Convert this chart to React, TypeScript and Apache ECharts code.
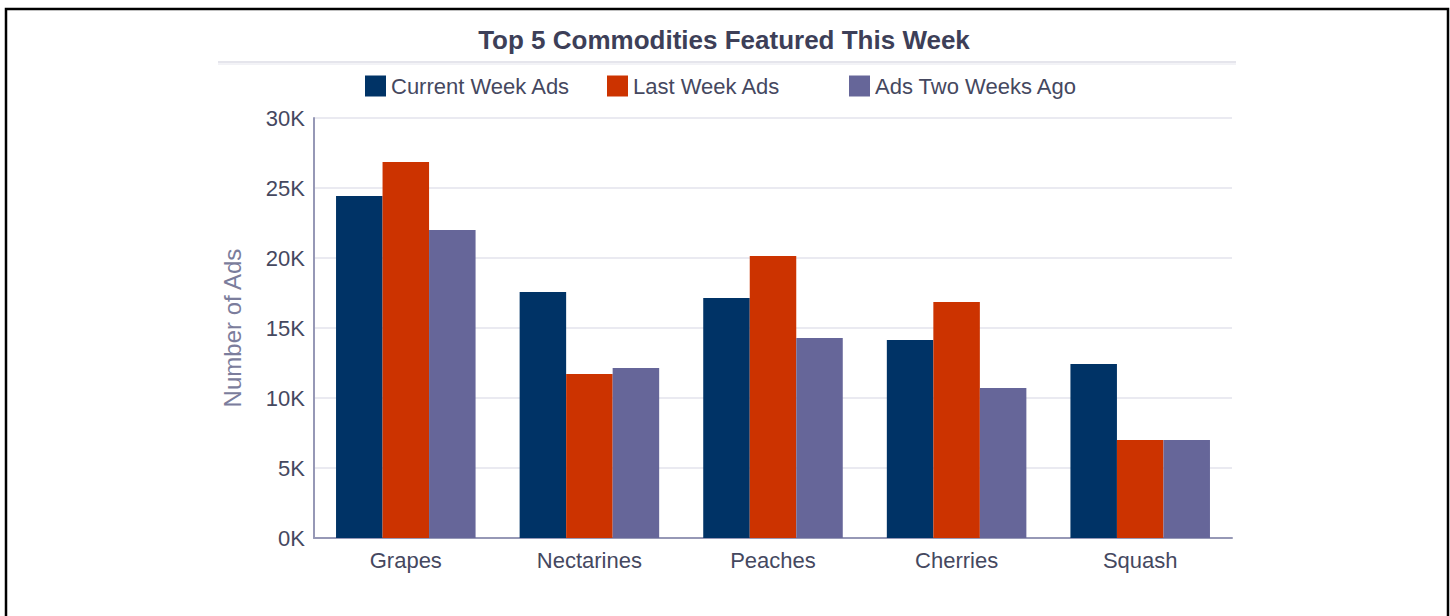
import React, { useEffect, useRef } from "react";
import * as echarts from "echarts";

const categories = ["Grapes", "Nectarines", "Peaches", "Cherries", "Squash"];
const seriesNames = ["Current Week Ads", "Last Week Ads", "Ads Two Weeks Ago"];
const currentWeek = [24430, 17570, 17140, 14140, 12430];
const lastWeek = [26860, 11710, 20140, 16860, 7000];
const twoWeeksAgo = [22000, 12140, 14290, 10710, 7000];
const colors = ["#003366", "#cc3300", "#666699"];
const legendLefts = [360, 602, 844];

const FONT = "Liberation Sans";

export default function App() {
  const ref = useRef<HTMLDivElement>(null);
  useEffect(() => {
    if (!ref.current) return;
    const chart = echarts.init(ref.current, undefined, { renderer: "svg" });
    const data = [currentWeek, lastWeek, twoWeeksAgo];
    chart.setOption({
      animation: false,
      textStyle: { fontFamily: FONT },
      title: {
        text: "Top 5 Commodities Featured This Week",
        left: 719,
        textAlign: "center",
        top: 22,
        textStyle: { fontFamily: FONT, fontSize: 26, fontWeight: "bold", color: "#3d3f58" },
      },
      legend: seriesNames.map((name, i) => ({
        left: legendLefts[i],
        top: 70,
        itemWidth: 21,
        itemHeight: 21,
        icon: "rect",
        textStyle: { fontFamily: FONT, fontSize: 22, color: "#45485f" },
        data: [name],
      })),
      grid: { left: 314, right: 218, top: 118, bottom: 78, containLabel: false },
      xAxis: {
        type: "category",
        data: categories,
        axisLine: { lineStyle: { color: "#9698b6", width: 2 } },
        axisTick: { show: false },
        axisLabel: { fontFamily: FONT, fontSize: 22, color: "#45485f", margin: 11 },
      },
      yAxis: {
        type: "value",
        min: 0,
        max: 30000,
        interval: 5000,
        name: "Number of Ads",
        nameLocation: "middle",
        nameGap: 70,
        nameTextStyle: { fontFamily: FONT, fontSize: 24, color: "#7b7d9c" },
        axisLine: { show: true, lineStyle: { color: "#9698b6", width: 2 } },
        axisTick: { show: false },
        axisLabel: {
          fontFamily: FONT,
          fontSize: 22,
          color: "#45485f",
          margin: 9,
          formatter: (v: number) => `${v / 1000}K`,
        },
        splitLine: { lineStyle: { color: "#e3e3ec", width: 1.5 } },
      },
      graphic: [
        {
          type: "rect",
          shape: { x: 6, y: 9, width: 1442, height: 640 },
          style: { fill: "none", stroke: "#000", lineWidth: 2.5 },
          silent: true,
        },
        {
          type: "line",
          shape: { x1: 218, y1: 62, x2: 1236, y2: 62 },
          style: { stroke: "#dcdce6", lineWidth: 1.5 },
          silent: true,
        },
        {
          type: "line",
          shape: { x1: 218, y1: 64, x2: 1236, y2: 64 },
          style: { stroke: "#e6e6ee", lineWidth: 1 },
          silent: true,
        },
      ],
      series: seriesNames.map((name, i) => ({
        name,
        type: "bar",
        data: data[i],
        barGap: "0%",
        barCategoryGap: "24%",
        itemStyle: { color: colors[i] },
      })),
    });
    return () => chart.dispose();
  }, []);
  return (
    <div
      ref={ref}
      style={{ position: "fixed", left: 0, top: 0, width: 1450, height: 616, background: "#fff" }}
    />
  );
}
